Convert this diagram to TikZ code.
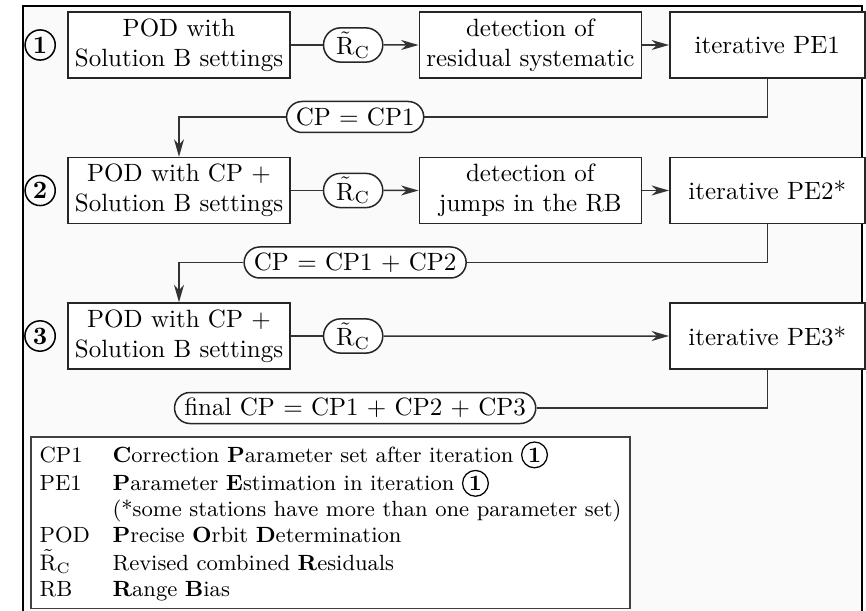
\documentclass[tikz,border=0pt]{standalone}
\usepackage{amsmath,amssymb}
\usepackage{tikz}
\usetikzlibrary{arrows.meta,positioning,calc,shapes.misc}

\newcommand{\itnum}[1]{\tikz[baseline=(c.base)]\node[circle,draw,line width=0.5pt,inner sep=0.9pt,font=\bfseries] (c) {#1};}
\newcommand{\Rc}{$\tilde{\mathrm{R}}_{\mathrm{C}}$}

\begin{document}
\begin{tikzpicture}[x=0.4pt,y=-0.4pt,>={Stealth[length=7pt,width=4pt,inset=2.2pt]},
    stepbox/.style={draw=black!85,fill=white,line width=0.6pt,align=center,minimum width=88.8pt,minimum height=26.4pt,inner sep=2pt},
    pebox/.style={stepbox,minimum width=78pt},
    pill/.style={draw=black!85,fill=white,line width=0.6pt,rounded rectangle,inner xsep=2.5pt,inner ysep=1.5pt,minimum height=12.4pt},
    itstep/.style={circle,draw,line width=0.6pt,inner sep=1.2pt,font=\bfseries},
    link/.style={draw=black!80,line width=0.6pt}]
    \useasboundingbox (0,0) rectangle (866,611);
    % frame (cut at the bottom)
    \fill[black!2] (23,6) rectangle (862,611);
    \draw[line width=1.1pt] (23,611) |- (862,6) -- (862,611);
    % Iteration 1
    \node[stepbox] (pod1) at (179,45) {POD with\\Solution B settings};
    \node[itstep,left=4.5pt of pod1] (n1) {1};
    \node[pill,right=12.8pt of pod1] (rc1) {\Rc};
    \node[stepbox,right=14pt of rc1] (det1) {detection of\\residual systematic};
    \node[pebox,right=10.8pt of det1] (pe1) {iterative PE1};
    \draw[link] (pod1) -- (rc1);
    \draw[link,->] (rc1) -- (det1);
    \draw[link,->] (det1) -- (pe1);
    % Iteration 2
    \node[stepbox,below=31.2pt of pod1] (pod2) {POD with CP $+$\\Solution B settings};
    \node[itstep,left=4.5pt of pod2] (n2) {2};
    \node[pill,right=12.8pt of pod2] (rc2) {\Rc};
    \node[stepbox,right=14pt of rc2] (det2) {detection of\\jumps in the RB};
    \node[pebox,right=10.8pt of det2] (pe2) {iterative PE2*};
    \draw[link] (pod2) -- (rc2);
    \draw[link,->] (rc2) -- (det2);
    \draw[link,->] (det2) -- (pe2);
    % Iteration 3
    \node[stepbox,below=31.2pt of pod2] (pod3) {POD with CP $+$\\Solution B settings};
    \node[itstep,left=4.5pt of pod3] (n3) {3};
    \node[pill,right=12.8pt of pod3] (rc3) {\Rc};
    \node[pebox,below=31.2pt of pe2] (pe3) {iterative PE3*};
    \draw[link] (pod3) -- (rc3);
    \draw[link,->] (rc3) -- (pe3);
    % correction parameters
    \path (rc1) ++(2,72) node[pill] (cp1) {CP $=$ CP1};
    \path (rc2) ++(2,72) node[pill] (cp2) {CP $=$ CP1 $+$ CP2};
    \path (rc3) ++(2,72) node[pill] (cp3) {final CP $=$ CP1 $+$ CP2 $+$ CP3};
    \draw[link] (pe1.south) |- (cp1.east);
    \draw[link,->] (cp1.west) -| (pod2.north);
    \draw[link] (pe2.south) |- (cp2.east);
    \draw[link,->] (cp2.west) -| (pod3.north);
    \draw[link] (pe3.south) |- (cp3.east);
    % legend
    \node[draw=black!75,fill=white,line width=0.7pt,anchor=north west,inner xsep=3.5pt,inner ysep=1.8pt,
      font=\fontsize{8.8}{10.3}\selectfont] (legend) at (30,436)
      {\begin{tabular}{@{}p{29.2pt}@{}l@{}}
        CP1 & \textbf{C}orrection \textbf{P}arameter set after iteration \itnum{1}\\
        PE1 & \textbf{P}arameter \textbf{E}stimation in iteration \itnum{1}\\
            & (*some stations have more than one parameter set)\\
        POD & \textbf{P}recise \textbf{O}rbit \textbf{D}etermination\\
        \Rc & Revised combined \textbf{R}esiduals\\
        RB  & \textbf{R}ange \textbf{B}ias
      \end{tabular}};
\end{tikzpicture}
\end{document}
